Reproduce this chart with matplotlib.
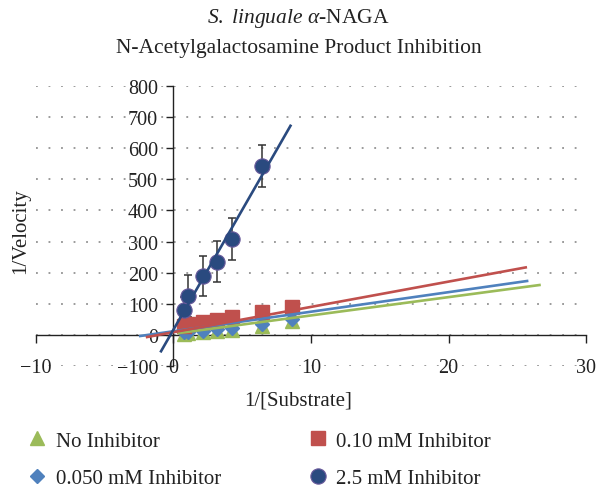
import numpy as np
import matplotlib
matplotlib.use("Agg")
import matplotlib.pyplot as plt

plt.rcParams['font.family'] = ['Liberation Serif', 'DejaVu Serif']
plt.rcParams['mathtext.fontset'] = 'custom'
plt.rcParams['mathtext.rm'] = 'Liberation Serif'
plt.rcParams['mathtext.it'] = 'Liberation Serif:italic'

# 1/[S] values and 1/v readings per inhibitor level
inv_s = [0.8, 1.1, 2.15, 3.2, 4.26, 6.43, 8.61]
no_inh = [2, 4, 8, 12, 16, 28, 44]
inh_050 = [8, 9, 13, 17, 22, 35, 50]
inh_010 = [28, 33, 42, 46, 57, 73, 90]

inv_s_25 = [0.8, 1.07, 2.15, 3.2, 4.26, 6.43]
inh_25 = [80, 124, 190, 235, 308, 544]
inh_25_err = [42, 68, 65, 66, 68, 68]

# trendlines: (slope, intercept, x start, x end)
fit_no = (5.9, 3.0, 0.3, 26.7)
fit_050 = (6.3, 11.0, -2.5, 25.8)
fit_010 = (8.15, 8.0, -2.0, 25.7)
fit_25 = (77.2, 15.6, -0.94, 8.56)

green = '#9BBB59'
blue = '#4F81BD'
red = '#C0504D'
navy = '#2A4A7F'
ink = '#222222'

fig = plt.figure(figsize=(5.97, 4.89), dpi=100)
ax = fig.add_axes([0.0598, 0.250, 0.9221, 0.5715])

def trend(fit, color):
    k, b, x0, x1 = fit
    xs = np.array([x0, x1])
    ax.plot(xs, k * xs + b, color=color, lw=1.9, zorder=5, solid_capstyle='butt')

ax.errorbar(inv_s_25, inh_25, yerr=inh_25_err, fmt='none', ecolor='#333333',
            elinewidth=1.1, capsize=3, capthick=1.1, zorder=2)

h_no, = ax.plot(inv_s, no_inh, '^', color=green, ms=9.5, mec=green, zorder=3,
                label='No Inhibitor', ls='none')
h_050, = ax.plot(inv_s, inh_050, 'D', color=blue, ms=7.5, mec=blue, zorder=3,
                 label='0.050 mM Inhibitor', ls='none')
h_010, = ax.plot(inv_s, inh_010, 's', color=red, ms=9.5, mec=red, zorder=3,
                 label='0.10 mM Inhibitor', ls='none')
h_25, = ax.plot(inv_s_25, inh_25, 'o', color=navy, ms=11, mec='#6A5A9C', mew=0.8,
                zorder=4, label='2.5 mM Inhibitor', ls='none')

trend(fit_no, green)
trend(fit_050, blue)
trend(fit_010, red)
trend(fit_25, navy)

ax.set_xlim(-10, 30)
ax.set_ylim(-100, 800)
ax.set_xticks([-10, 0, 10, 20, 30])
ax.set_yticks(np.arange(-100, 801, 100))

# dotted horizontal gridlines
for yv in np.arange(-100, 801, 100):
    ax.plot([-10, 30], [yv, yv], color='#808080', lw=1.1,
            dashes=(1.2, 7.0), zorder=0)

ax.spines['top'].set_visible(False)
ax.spines['right'].set_visible(False)
ax.spines['left'].set_position(('data', 0))
ax.spines['bottom'].set_position(('data', 0))
for s in ('left', 'bottom'):
    ax.spines[s].set_linewidth(1.0)
    ax.spines[s].set_color(ink)

ax.tick_params(axis='y', direction='out', length=5, width=1.0, pad=6,
               labelsize=14.5, colors=ink)
ax.tick_params(axis='x', direction='out', length=6, width=1.0, pad=11,
               labelsize=14.5, colors=ink)
ax.set_xticklabels(['\u221210', '0', '10', '20', '30'])
ax.set_yticklabels(['\u2212100'] + [str(v) for v in range(0, 801, 100)])

fig.text(0.5, 1 - 19 / 489, r'$S.\ linguale\ \alpha$-NAGA', ha='center', va='center',
         fontsize=15.5, color=ink)
fig.text(0.5, 1 - 48 / 489, 'N-Acetylgalactosamine Product Inhibition', ha='center',
         va='center', fontsize=15.5, color=ink)
fig.text(21 / 597, 1 - 231 / 489, '1/Velocity', rotation=90, ha='center', va='center',
         fontsize=15, color=ink)
fig.text(298 / 597, 1 - 401 / 489, '1/[Substrate]', ha='center', va='center',
         fontsize=15, color=ink)

leg = fig.legend(handles=[h_no, h_050, h_010, h_25], ncol=2, loc='upper left',
                 bbox_to_anchor=(27.5 / 597, 1 - 432 / 489), frameon=False,
                 fontsize=15, handlelength=0.9, handletextpad=0.45,
                 columnspacing=4.2, labelspacing=0.85, borderpad=0,
                 borderaxespad=0)
for t in leg.get_texts():
    t.set_color(ink)

fig.savefig('out.png', dpi=100)
